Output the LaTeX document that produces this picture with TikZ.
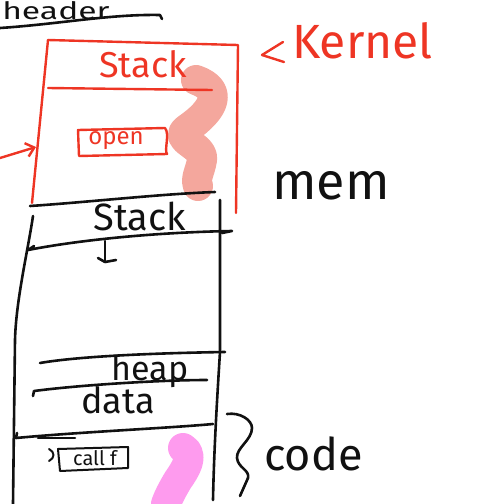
\documentclass[tikz,border=0pt]{standalone}
\usepackage{fontspec}
\setmainfont{Fira Sans}
\usetikzlibrary{arrows.meta}
\definecolor{pen}{HTML}{111111}
\definecolor{redpen}{HTML}{EE3524}
\definecolor{salmon}{HTML}{F4A79D}
\definecolor{pinkhl}{HTML}{FE9BEE}
\tikzset{
  ink/.style={draw=pen, line width=2.6pt, line cap=round, line join=round},
  redink/.style={draw=redpen, line width=2.4pt, line cap=round, line join=round},
  marker/.style={line width=30pt, line cap=round, line join=round},
  label/.style={inner sep=0pt, text=pen},
  redlabel/.style={inner sep=0pt, text=redpen},
}
\begin{document}
\begin{tikzpicture}[x=1pt, y=-1pt]
\useasboundingbox (0,0) rectangle (482,504);

% highlighter strokes (under everything)
\draw[marker, salmon] (196,80) .. controls (224,90) and (214,110) .. (188,128)
  .. controls (170,140) and (205,145) .. (202,160) .. controls (200,172) and (195,178) .. (198,186);
\draw[marker, pinkhl] (183,448) .. controls (195,455) and (185,470) .. (178,480)
  .. controls (172,490) and (168,498) .. (166,504);

% header text and its underline
\node[label, font=\fontsize{24}{24}\selectfont, anchor=base west, xscale=1.4] (hdr) at (2,19) {header};
\draw[ink] (0,28) .. controls (60,24) and (110,14) .. (160,15) -- (162,19);

% kernel region (red)
\coordinate (k1) at (48,40);
\coordinate (k2) at (238,45);
\coordinate (k3) at (236,213);
\coordinate (k4) at (32,203);
\draw[redink] (k1) -- (k2) -- (k3);
\draw[redink] (k1) -- (k4);
\draw[redink] (48,88) -- (212,90);
\node[redlabel, font=\fontsize{36}{36}\selectfont] (kstack) at (143,64) {Stack};
\node[redlabel, font=\fontsize{24}{24}\selectfont] (open) at (116,141) {open};
\draw[redink] (78,130) -- (165,128) .. controls (170,134) and (164,150) .. (167,154) -- (79,156) -- cycle;
\coordinate (arrtail) at (0,158);
\coordinate (arrhead) at (36,147);
\draw[redink, -{Straight Barb[length=8pt, width=14pt]}] (arrtail) -- (arrhead);
\node[redlabel, font=\fontsize{48}{48}\selectfont, anchor=base west] (kernel) at (292,58) {Kernel};
\draw[redink] (283,42) -- (262,55) -- (284,62);

\node[label, font=\fontsize{52}{52}\selectfont, anchor=base west] (mem) at (272,199) {mem};

% process memory column (black)
\draw[ink] (30,206) .. controls (90,202) and (160,194) .. (215,192);
\draw[ink] (220,200) -- (220,352) .. controls (217,400) and (214,450) .. (213,500);
\draw[ink] (33,216) .. controls (28,250) and (16,300) .. (15,340) -- (13,504);
\node[label, font=\fontsize{38}{38}\selectfont] (ustack) at (140,216) {Stack};
\draw[ink] (34,246) -- (28,250) .. controls (90,238) and (170,232) .. (232,231) -- (222,233);
\draw[ink] (105,241) -- (105,261);
\draw[ink] (98,258) -- (105,262) -- (116,260);

\draw[ink] (40,363) .. controls (80,356) and (160,353) .. (225,352);
\node[label, font=\fontsize{34}{34}\selectfont, anchor=base] (heap) at (150,380) {heap};
\draw[ink] (33,396) -- (34,391) .. controls (80,385) and (160,380) .. (207,380);
\node[label, font=\fontsize{36}{36}\selectfont, anchor=base] (data) at (118,413) {data};
\draw[ink] (17,433) -- (16,438) .. controls (80,432) and (170,428) .. (213,424);
\draw[ink] (38,438) -- (75,438);

\node[label, font=\fontsize{20}{20}\selectfont] (call) at (95,458) {call f};
\draw[ink, line width=2pt] (58,449) -- (128,447) -- (128,468) -- (60,471) -- cycle;
\draw[ink, line width=2pt] (49,449) .. controls (55,452) and (55,458) .. (49,461);

% code brace and label
\draw[ink] (227,414) .. controls (240,412) and (252,420) .. (252,428)
  .. controls (252,440) and (236,448) .. (237,458)
  .. controls (238,468) and (250,470) .. (248,478) -- (240,496);
\node[label, font=\fontsize{45}{45}\selectfont, anchor=base west] (code) at (264,470) {code};
\end{tikzpicture}
\end{document}
